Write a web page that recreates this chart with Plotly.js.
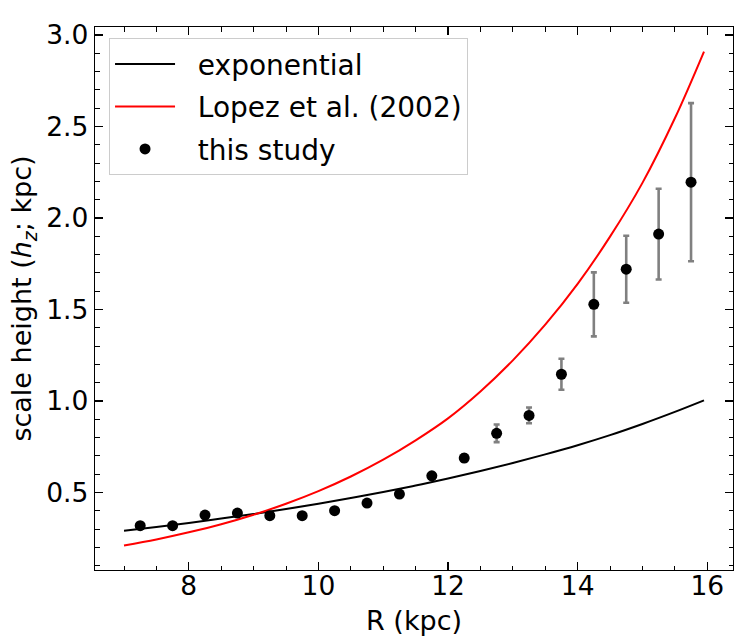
<!DOCTYPE html>
<html>
<head>
<meta charset="utf-8">
<script src="https://cdn.plot.ly/plotly-3.0.1.min.js"></script>
<style>
  html, body { margin: 0; padding: 0; background: #fff; }
  #chart { width: 755px; height: 641px; }
</style>
</head>
<body>
<div id="chart"></div>
<script>
// Model curves
const modelR = [7, 7.5, 8, 8.5, 9, 9.5, 10, 10.5, 11, 11.5, 12, 12.5, 13, 13.5, 14, 14.5, 15, 15.5, 15.95];
const expH   = [0.291, 0.311, 0.333, 0.357, 0.382, 0.409, 0.438, 0.469, 0.502, 0.538, 0.576, 0.617, 0.661, 0.708, 0.758, 0.813, 0.874, 0.940, 1.003];
const lopezH = [0.210, 0.243, 0.282, 0.326, 0.378, 0.438, 0.507, 0.587, 0.679, 0.785, 0.905, 1.052, 1.222, 1.417, 1.640, 1.898, 2.192, 2.545, 2.910];

// This study: measured scale heights
const studyR   = [7.25, 7.75, 8.25, 8.75, 9.25, 9.75, 10.25, 10.75, 11.25, 11.75, 12.25, 12.75, 13.25, 13.75, 14.25, 14.75, 15.25, 15.75];
const studyH   = [0.318, 0.318, 0.376, 0.387, 0.373, 0.373, 0.400, 0.442, 0.491, 0.591, 0.688, 0.823, 0.921, 1.146, 1.528, 1.720, 1.912, 2.196];
const studyErr = [0.008, 0.008, 0.008, 0.008, 0.008, 0.008, 0.008, 0.008, 0.010, 0.012, 0.020, 0.048, 0.043, 0.085, 0.175, 0.183, 0.248, 0.432];

const xTicks = [8, 10, 12, 14, 16];
const yTicks = [0.5, 1.0, 1.5, 2.0, 2.5, 3.0];
const yTickText = ['0.5', '1.0', '1.5', '2.0', '2.5', '3.0'];
const legendNames = ['exponential', 'Lopez et al. (2002)', 'this study'];
const xTitle = 'R (kpc)';
const yTitle = 'scale height (<i>h</i><sub><i>z</i></sub>; kpc)';

const FONT = 'DejaVu Sans, Liberation Sans, sans-serif';
const PAD = '\u00a0\u00a0';

const traces = [
  {
    x: modelR, y: expH, type: 'scatter', mode: 'lines',
    name: PAD + legendNames[0], legendgroup: 'a',
    line: { color: '#000000', width: 2, shape: 'spline' }
  },
  {
    x: modelR, y: lopezH, type: 'scatter', mode: 'lines',
    name: PAD + legendNames[1], legendgroup: 'b',
    line: { color: '#ff0000', width: 2, shape: 'spline' }
  },
  {
    x: studyR, y: studyH, type: 'scatter', mode: 'markers',
    name: PAD + legendNames[2], legendgroup: 'c',
    marker: { color: '#000000', size: 11 },
    error_y: { type: 'data', array: studyErr, visible: true, color: '#808080', thickness: 2.6, width: 3 }
  }
];

const axisCommon = {
  showline: true, linecolor: '#000', linewidth: 1.3, mirror: 'allticks',
  ticks: 'inside', ticklen: 8, tickwidth: 1.3, tickcolor: '#000',
  showgrid: false, zeroline: false,
  tickfont: { family: FONT, size: 26.5, color: '#000' }
};

const layout = {
  width: 755, height: 641,
  margin: { l: 95, r: 22, t: 27, b: 71 },
  paper_bgcolor: '#fff', plot_bgcolor: '#fff',
  font: { family: FONT, size: 26, color: '#000' },
  xaxis: Object.assign({}, axisCommon, {
    range: [6.5525, 16.3975],
    tickmode: 'array', tickvals: xTicks, ticktext: xTicks.map(String),
    ticklabelstandoff: -8,
    minor: { dtick: 0.5, tick0: 0, ticks: 'inside', ticklen: 4.5, tickwidth: 1, tickcolor: '#000', showgrid: false }
  }),
  yaxis: Object.assign({}, axisCommon, {
    range: [0.076, 3.044],
    tickmode: 'array', tickvals: yTicks, ticktext: yTickText,
    minor: { dtick: 0.1, tick0: 0, ticks: 'inside', ticklen: 4.5, tickwidth: 1, tickcolor: '#000', showgrid: false },
    title: { text: yTitle, font: { family: FONT, size: 27, color: '#000' }, standoff: 6 }
  }),
  annotations: [
    {
      text: xTitle, xref: 'paper', yref: 'paper', x: 0.5, y: -0.0607,
      xanchor: 'center', yanchor: 'top', showarrow: false,
      font: { family: FONT, size: 27, color: '#000' }
    }
  ],
  showlegend: true,
  legend: {
    x: 0.022, y: 0.979, xanchor: 'left', yanchor: 'top',
    bgcolor: 'rgba(255,255,255,0.8)', bordercolor: '#cccccc', borderwidth: 1,
    font: { family: FONT, size: 28, color: '#000' },
    traceorder: 'grouped', tracegroupgap: 3, itemwidth: 60
  }
};

Plotly.newPlot('chart', traces, layout, { displayModeBar: false, staticPlot: true });
</script>
</body>
</html>
